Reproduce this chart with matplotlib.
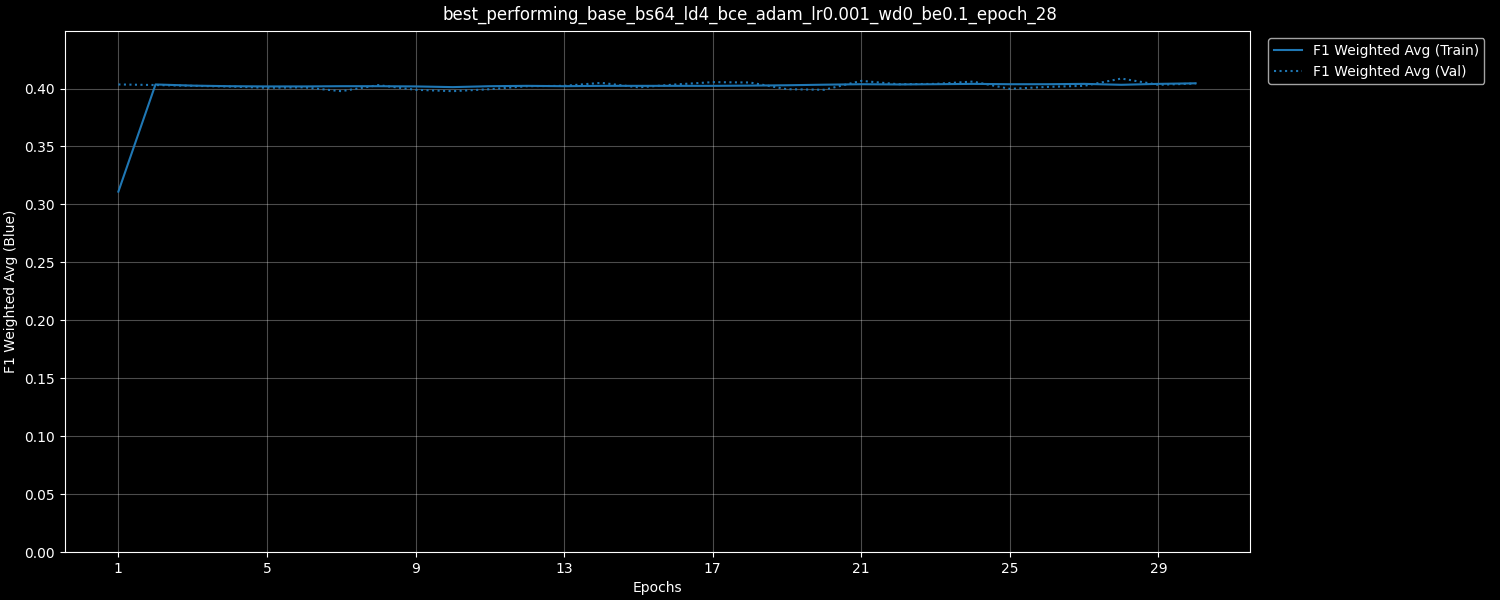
import matplotlib
matplotlib.use("Agg")
import matplotlib.pyplot as plt

epochs = list(range(1, 31))
train_f1 = [0.311, 0.4035, 0.4025, 0.4020, 0.4018, 0.4018, 0.4020, 0.4020, 0.4018, 0.4012,
            0.4020, 0.4023, 0.4020, 0.4023, 0.4023, 0.4023, 0.4023, 0.4025, 0.4028, 0.4033,
            0.4037, 0.4035, 0.4037, 0.4040, 0.4037, 0.4037, 0.4040, 0.4032, 0.4040, 0.4045]
val_f1 = [0.4035, 0.4030, 0.4023, 0.4017, 0.4006, 0.4010, 0.3977, 0.4029, 0.3989, 0.3977,
          0.3994, 0.4020, 0.4023, 0.4049, 0.4010, 0.4035, 0.4055, 0.4052, 0.3994, 0.3989,
          0.4066, 0.4037, 0.4040, 0.4060, 0.3997, 0.4014, 0.4023, 0.4086, 0.4032, 0.4043]

plt.style.use('dark_background')
fig, ax = plt.subplots(figsize=(15, 6), dpi=100)
ax.plot(epochs, train_f1, color='#1f77b4', linestyle='-', label='F1 Weighted Avg (Train)')
ax.plot(epochs, val_f1, color='#1f77b4', linestyle=':', label='F1 Weighted Avg (Val)')

fig.suptitle('best_performing_base_bs64_ld4_bce_adam_lr0.001_wd0_be0.1_epoch_28', y=0.99, fontsize=12)
ax.set_xlabel('Epochs')
ax.set_ylabel('F1 Weighted Avg (Blue)')
ax.set_xticks(epochs[::4])
ax.set_ylim(0, max(max(train_f1), max(val_f1)) * 1.1)
ax.grid(True, alpha=0.3)
ax.legend(loc='upper left', bbox_to_anchor=(1.01, 1))

fig.subplots_adjust(left=0.043, right=0.833, top=0.948, bottom=0.08)
fig.savefig('out.png', dpi=100)
